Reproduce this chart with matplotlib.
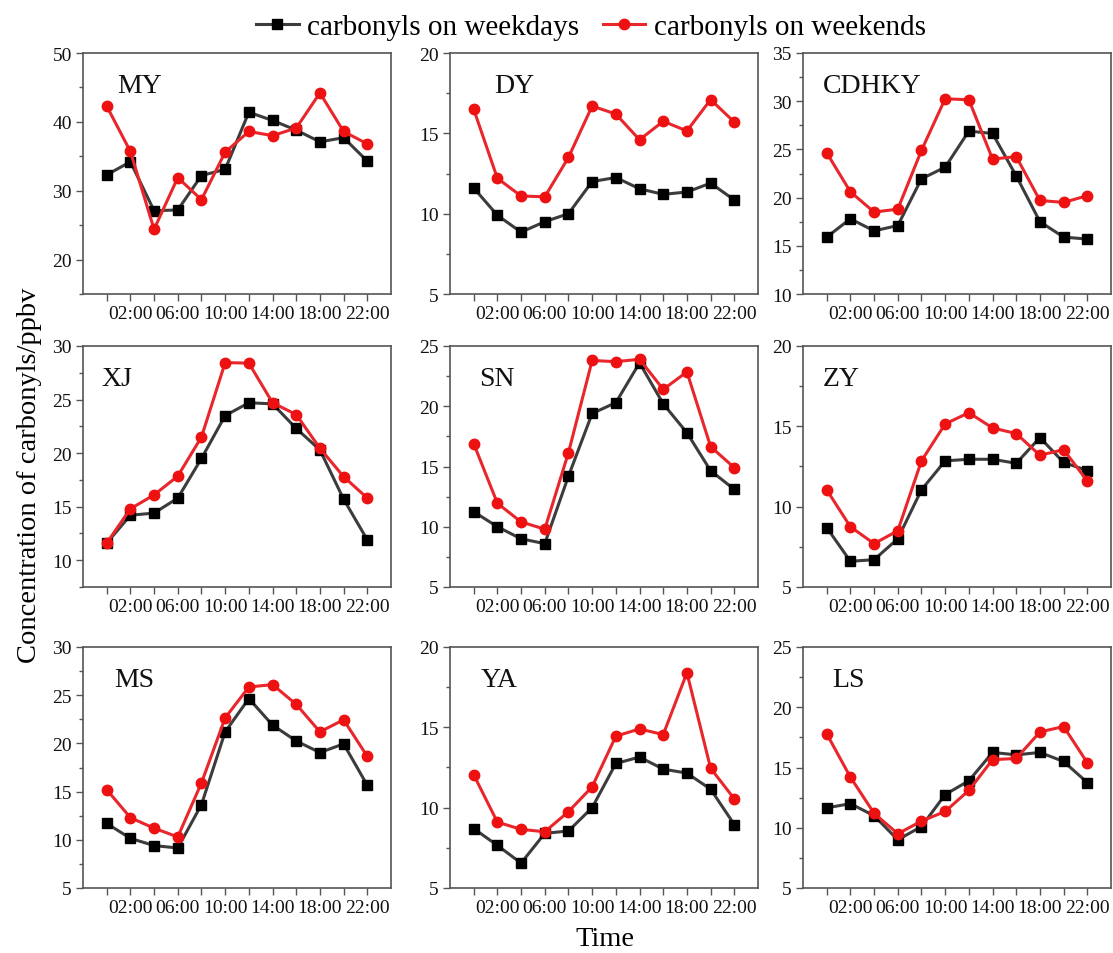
#! /usr/bin/env python3
"""Diurnal carbonyl concentrations, weekdays vs weekends, nine sites."""

import matplotlib
matplotlib.use("Agg")
import matplotlib.pyplot as plt
from matplotlib.ticker import MultipleLocator

plt.rcParams['font.family'] = ['Liberation Serif', 'DejaVu Serif']

hours = [0, 2, 4, 6, 8, 10, 12, 14, 16, 18, 20, 22]
tick_labels = ['', '02:00', '', '06:00', '', '10:00', '', '14:00', '', '18:00', '', '22:00']

sites = ['MY', 'DY', 'CDHKY', 'XJ', 'SN', 'ZY', 'MS', 'YA', 'LS']

my_weekdays = [32.3, 34.2, 27.1, 27.2, 32.2, 33.1, 41.4, 40.2, 38.8, 37.1, 37.7, 34.3]
my_weekends = [42.3, 35.7, 24.4, 31.9, 28.7, 35.6, 38.6, 38.0, 39.1, 44.2, 38.6, 36.8]
dy_weekdays = [11.6, 9.9, 8.85, 9.5, 10.0, 12.0, 12.25, 11.55, 11.2, 11.35, 11.9, 10.85]
dy_weekends = [16.5, 12.2, 11.1, 11.05, 13.5, 16.7, 16.2, 14.6, 15.75, 15.15, 17.1, 15.7]
cdhky_weekdays = [15.9, 17.8, 16.55, 17.1, 21.95, 23.15, 26.9, 26.65, 22.25, 17.5, 15.9, 15.7]
cdhky_weekends = [24.65, 20.6, 18.5, 18.8, 24.9, 30.25, 30.15, 24.0, 24.25, 19.7, 19.5, 20.2]
xj_weekdays = [11.6, 14.2, 14.4, 15.8, 19.5, 23.5, 24.7, 24.6, 22.3, 20.3, 15.7, 11.9]
xj_weekends = [11.6, 14.8, 16.1, 17.85, 21.5, 28.45, 28.4, 24.7, 23.6, 20.45, 17.8, 15.8]
sn_weekdays = [11.25, 10.0, 9.0, 8.6, 14.2, 19.4, 20.3, 23.6, 20.2, 17.8, 14.65, 13.1]
sn_weekends = [16.9, 11.95, 10.4, 9.8, 16.15, 23.8, 23.7, 23.9, 21.4, 22.85, 16.65, 14.9]
zy_weekdays = [8.7, 6.6, 6.7, 8.0, 11.05, 12.85, 12.95, 12.95, 12.7, 14.3, 12.75, 12.25]
zy_weekends = [11.05, 8.75, 7.7, 8.5, 12.85, 15.15, 15.85, 14.9, 14.55, 13.2, 13.55, 11.6]
ms_weekdays = [11.7, 10.15, 9.4, 9.15, 13.65, 21.2, 24.65, 21.9, 20.25, 19.05, 19.95, 15.65]
ms_weekends = [15.2, 12.3, 11.2, 10.3, 15.9, 22.65, 25.85, 26.1, 24.05, 21.2, 22.45, 18.65]
ya_weekdays = [8.7, 7.65, 6.55, 8.4, 8.55, 10.0, 12.75, 13.15, 12.4, 12.15, 11.15, 8.95]
ya_weekends = [12.05, 9.1, 8.65, 8.5, 9.75, 11.3, 14.45, 14.9, 14.55, 18.4, 12.45, 10.55]
ls_weekdays = [11.65, 12.0, 11.0, 9.0, 10.1, 12.75, 13.9, 16.25, 16.05, 16.25, 15.5, 13.75]
ls_weekends = [17.8, 14.2, 11.2, 9.5, 10.55, 11.35, 13.1, 15.65, 15.75, 17.95, 18.4, 15.4]

weekdays = [my_weekdays, dy_weekdays, cdhky_weekdays, xj_weekdays, sn_weekdays,
            zy_weekdays, ms_weekdays, ya_weekdays, ls_weekdays]
weekends = [my_weekends, dy_weekends, cdhky_weekends, xj_weekends, sn_weekends,
            zy_weekends, ms_weekends, ya_weekends, ls_weekends]

# y range, major step per panel
y_limits = [(15, 50), (5, 20), (10, 35), (7.5, 30), (5, 25), (5, 20), (5, 30), (5, 20), (5, 25)]
y_steps = [10, 5, 5, 5, 5, 5, 5, 5, 5]
label_x = [0.11, 0.145, 0.065, 0.06, 0.095, 0.065, 0.10, 0.10, 0.095]

W, H = 1113, 954
fig = plt.figure(figsize=(W / 100, H / 100), dpi=100)

col_left = [83, 450, 803]
row_top = [54, 347, 648]
ax_w, ax_h = 308, 241

SPINE = '#555555'
lines = []
for i, site in enumerate(sites):
    r, c = divmod(i, 3)
    ax = fig.add_axes([col_left[c] / W, 1 - (row_top[r] + ax_h) / H, ax_w / W, ax_h / H])
    l1, = ax.plot(hours, weekdays[i], color='#3c3c3c', lw=2.2, marker='s', ms=7,
                  mfc='black', mec='black', label='carbonyls on weekdays', zorder=3)
    l2, = ax.plot(hours, weekends[i], color='#e8262b', lw=2.2, marker='o', ms=7.5,
                  mfc='#ee1111', mec='#ee1111', label='carbonyls on weekends', zorder=4)
    lines = [l1, l2]
    ax.set_xlim(-2, 24)
    ax.set_ylim(*y_limits[i])
    ax.set_xticks(hours)
    ax.set_xticklabels(tick_labels)
    ax.yaxis.set_major_locator(MultipleLocator(y_steps[i]))
    ax.yaxis.set_minor_locator(MultipleLocator(y_steps[i] / 2))
    ax.tick_params(axis='both', which='major', labelsize=14, length=5, width=1,
                   color=SPINE, labelcolor='#111111', pad=3)
    ax.tick_params(axis='y', which='minor', length=3, width=1, color=SPINE)
    for s in ax.spines.values():
        s.set_color(SPINE)
        s.set_linewidth(1.2)
    ax.text(label_x[i], 0.865, site, transform=ax.transAxes, fontsize=20,
            va='center', ha='left', color='#111111')

fig.legend(lines, [l.get_label() for l in lines], loc='center', ncol=2,
           bbox_to_anchor=(591 / W, 1 - 28 / H), frameon=False, fontsize=21,
           handlelength=1.45, handletextpad=0.3, columnspacing=0.8)
fig.text(30 / W, 1 - 475 / H, 'Concentration of carbonyls/ppbv', rotation=90,
         ha='center', va='center', fontsize=20.5)
fig.text(605 / W, 1 - 940 / H, 'Time', ha='center', va='center', fontsize=20.5)

fig.savefig('out.png', dpi=100)
